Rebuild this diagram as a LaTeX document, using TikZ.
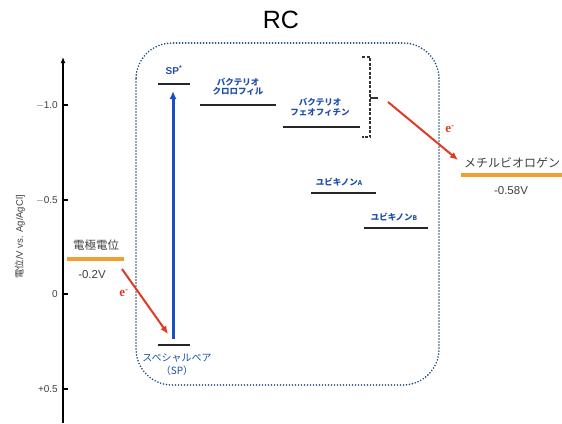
\documentclass[tikz,border=0pt]{standalone}
\usepackage{fontspec}
\setmainfont{Liberation Sans}
\newfontfamily\jp{Noto Sans CJK JP}
\newfontfamily\eserif{Liberation Serif}
\usetikzlibrary{arrows.meta}
\definecolor{boxblue}{HTML}{1F4E79}
\definecolor{lblblue}{HTML}{1F4FA8}
\definecolor{arrblue}{HTML}{1A4FC4}
\definecolor{orng}{HTML}{F0A030}
\definecolor{rd}{HTML}{E03A25}
\definecolor{gtxt}{HTML}{404040}
\tikzset{
  lvl/.style={line width=2.2pt, black!85},
  olvl/.style={line width=3.5pt, orng},
  lbl/.style={text=lblblue, font=\jp\bfseries\fontsize{8.5}{9.5}\selectfont, inner sep=0pt, align=center},
  tick/.style={font=\fontsize{10}{11}\selectfont, text=gtxt, anchor=east, inner sep=0pt},
  etxt/.style={text=rd, font=\eserif\bfseries\fontsize{13}{14}\selectfont, inner sep=0pt},
  earrow/.style={rd, line width=2pt, -{Latex[length=8pt,width=7pt]}},
}
\begin{document}
\begin{tikzpicture}[x=1pt,y=-1pt]
\useasboundingbox (0,0) rectangle (562,423);
% title
\node (rc) at (281,20) {\fontsize{25}{27}\selectfont RC};
% axis
\coordinate (axb) at (63,423);
\coordinate (axt) at (63,57);
\draw[line width=1.8pt, -{Latex[length=6pt,width=5pt]}] (axb) -- (axt);
\foreach \y/\t in {105/$-$1.0,200/$-$0.5,294/0,389/+0.5}{
  \draw[line width=1.8pt] (63,\y) -- (68,\y);
  \node[tick] at (58,\y) {\t};
}
\node[rotate=90, text=gtxt, inner sep=0pt] (axl) at (20,237) {{\jp\fontsize{9.5}{10}\selectfont 電位}\fontsize{9.5}{10}\selectfont /V vs. Ag/AgCl]};
% RC box
\draw[boxblue, line width=1.8pt, dash pattern=on 0pt off 3pt, line cap=round, rounded corners=36pt] (136,43) rectangle (439,385);
% SP* and SP
\coordinate (spsL) at (158,84); \coordinate (spsR) at (190,84);
\draw[lvl] (spsL) -- (spsR);
\node[lbl, font=\bfseries\fontsize{10}{11}\selectfont] (sps) at (174,70) {SP\textsuperscript{*}};
\coordinate (spL) at (158,345); \coordinate (spR) at (190,345);
\draw[lvl] (spL) -- (spR);
\node[lbl, font=\jp\fontsize{10}{13}\selectfont] (sp) at (177,365) {スペシャルペア\\（SP）};
\coordinate (upb) at (173,339);
\coordinate (upt) at (173,91);
\draw[arrblue, line width=3pt, -{Latex[length=8pt,width=7pt]}] (upb) -- (upt);
% bacteriochlorophyll
\coordinate (bcL) at (200,105); \coordinate (bcR) at (276,105);
\draw[lvl] (bcL) -- (bcR);
\node[lbl] (bc) at (238,87) {バクテリオ\\クロロフィル};
% bacteriopheophytin
\coordinate (bpL) at (283,127); \coordinate (bpR) at (360,127);
\draw[lvl] (bpL) -- (bpR);
\node[lbl] (bp) at (320,107.5) {バクテリオ\\フェオフィチン};
% bracket
\coordinate (brt) at (362,57); \coordinate (brb) at (362,137);
\draw[black!80, line width=1.5pt, dash pattern=on 3pt off 1.5pt] (brt) -- (370,57) -- (370,137) -- (brb);
\coordinate (brm) at (370,98);
\draw[black!80, line width=1.5pt] (brm) -- (378,98);
% ubiquinones
\coordinate (qaL) at (311,193); \coordinate (qaR) at (376,193);
\draw[lvl] (qaL) -- (qaR);
\node[lbl] (qa) at (339,182) {ユビキノン{\fontsize{6.5}{7}\selectfont A}};
\coordinate (qbL) at (364,228); \coordinate (qbR) at (428,228);
\draw[lvl] (qbL) -- (qbR);
\node[lbl] (qb) at (394,217) {ユビキノン{\fontsize{6.5}{7}\selectfont B}};
% methyl viologen
\node[text=gtxt, font=\jp\fontsize{12}{13}\selectfont, inner sep=0pt] (mv) at (512,163) {メチルビオロゲン};
\coordinate (mvL) at (461,175); \coordinate (mvR) at (562,175);
\draw[olvl] (mvL) -- (mvR);
\node[text=gtxt, font=\fontsize{11.5}{12}\selectfont, inner sep=0pt] (mvv) at (511,191) {-0.58V};
% electrode
\node[text=gtxt, font=\jp\fontsize{11.5}{12}\selectfont, inner sep=0pt] (el) at (96,245) {電極電位};
\coordinate (elL) at (67,259); \coordinate (elR) at (124,259);
\draw[olvl] (elL) -- (elR);
\node[text=gtxt, font=\fontsize{11.5}{12}\selectfont, inner sep=0pt] (elv) at (92,275) {-0.2V};
% electron arrows
\coordinate (e1s) at (122,269); \coordinate (e1e) at (168,334);
\draw[earrow] (e1s) -- (e1e);
\node[etxt] (e1) at (124,293) {e\textsuperscript{-}};
\coordinate (e2s) at (388,102); \coordinate (e2e) at (458,160);
\draw[earrow] (e2s) -- (e2e);
\node[etxt] (e2) at (450,129) {e\textsuperscript{-}};
\end{tikzpicture}
\end{document}
